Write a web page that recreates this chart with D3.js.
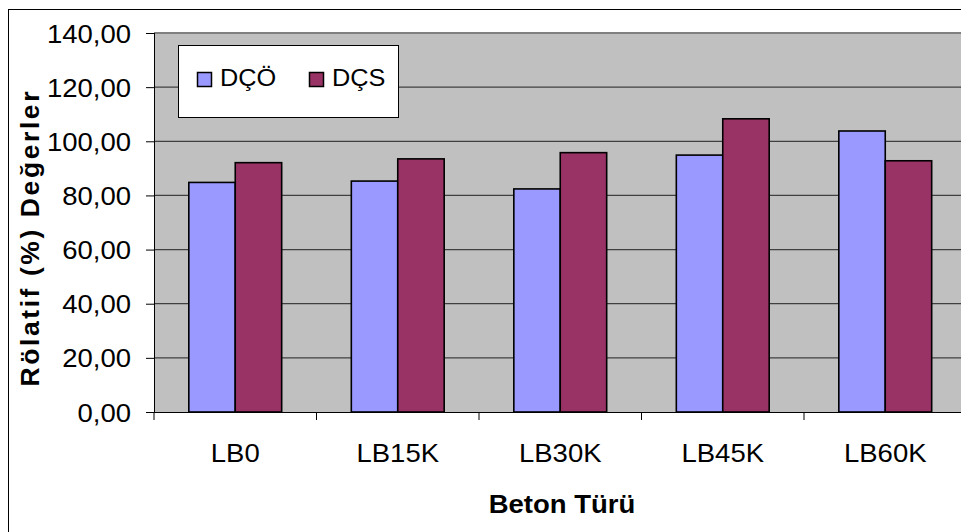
<!DOCTYPE html>
<html lang="tr">
  <head>
    <meta charset="utf-8">
    <title>Rölatif Değerler</title>
    <style>
      body{ margin:0; background:#fff; }
      text{ font-family:"Liberation Sans", Arial, sans-serif; fill:#000; }
    </style>
    <script src="https://cdn.jsdelivr.net/npm/d3@7"></script>
  </head>
  <body>
  <svg width="961" height="532"></svg>
    <script>
// data
var categories = ["LB0", "LB15K", "LB30K", "LB45K", "LB60K"];
var seriesNames = ["DÇÖ", "DÇS"];
var dcoValues = [84.8, 85.3, 82.4, 94.9, 103.8];
var dcsValues = [92.1, 93.5, 95.8, 108.3, 92.8];
var yTicks = [0, 20, 40, 60, 80, 100, 120, 140];
var colors = ["#9999FF", "#993366"];

var svg = d3.select("svg");
var plot = {left:154, right:966.5, top:33, bottom:412};
var sx = 1.1; // text in the original is a bit wide

// outer frame
svg.append("rect")
    .attr("x", 8.5).attr("y", 9.5)
    .attr("width", 1000).attr("height", 600)
    .attr("fill", "#fff").attr("stroke", "#000").attr("stroke-width", 1);

var xScale = d3.scaleBand().domain(categories).range([plot.left, plot.right]);
var step = xScale.bandwidth();
var barW = step / 3.5;
var x1 = d3.scaleBand().domain(seriesNames).range([barW * 0.75, step - barW * 0.75]);
var yScale = d3.scaleLinear().domain([0, 140]).range([plot.bottom, plot.top]);

// plot background
svg.append("rect")
    .attr("x", plot.left).attr("y", plot.top)
    .attr("width", plot.right - plot.left).attr("height", plot.bottom - plot.top)
    .attr("fill", "#C0C0C0");
svg.append("line")
    .attr("x1", plot.left).attr("x2", plot.right)
    .attr("y1", plot.top).attr("y2", plot.top)
    .attr("stroke", "#808080").attr("stroke-width", 2);

// gridlines
svg.append("g").selectAll("line")
    .data(yTicks.filter(function(d){ return d > 0 && d < 140; }))
    .enter().append("line")
    .attr("x1", plot.left).attr("x2", plot.right)
    .attr("y1", function(d){ return yScale(d); })
    .attr("y2", function(d){ return yScale(d); })
    .attr("stroke", "#404040").attr("stroke-width", 1.2);

// bars
var rows = categories.map(function(c, i){
  return {cat:c, vals:[dcoValues[i], dcsValues[i]]};
});
var groups = svg.append("g").selectAll("g")
    .data(rows).enter().append("g")
    .attr("transform", function(d){ return "translate(" + xScale(d.cat) + ",0)"; });
groups.selectAll("rect")
    .data(function(d){ return d.vals.map(function(v, j){ return {name:seriesNames[j], v:v, j:j}; }); })
    .enter().append("rect")
    .attr("x", function(d){ return x1(d.name); })
    .attr("width", x1.bandwidth())
    .attr("y", function(d){ return yScale(d.v); })
    .attr("height", function(d){ return yScale(0) - yScale(d.v); })
    .attr("fill", function(d){ return colors[d.j]; })
    .attr("stroke", "#000").attr("stroke-width", 1.6);

// y axis
var yAxis = svg.append("g")
    .attr("transform", "translate(" + plot.left + ",0)")
    .call(d3.axisLeft(yScale).tickValues(yTicks).tickSize(8).tickPadding(14)
      .tickFormat(function(d){ return d3.format(".2f")(d).replace(".", ","); }));
yAxis.select(".domain").attr("stroke", "#000").attr("stroke-width", 1).attr("d", "M0.5," + plot.top + "V" + plot.bottom);
yAxis.selectAll(".tick line").attr("stroke", "#000");
yAxis.selectAll("text")
    .attr("font-size", 25).attr("dy", "0.36em")
    .attr("x", -23 / sx)
    .attr("transform", "scale(" + sx + ",1)")
    .attr("font-family", "Liberation Sans, Arial, sans-serif");

// x axis
var xAxis = svg.append("g")
    .attr("transform", "translate(0," + plot.bottom + ")")
    .call(d3.axisBottom(xScale).tickSize(0).tickPadding(32));
xAxis.select(".domain").attr("stroke", "#000").attr("d", "M" + plot.left + ",0.5H" + plot.right);
xAxis.selectAll("text")
    .attr("font-size", 25)
    .attr("transform", "scale(" + sx + ",1)")
    .attr("font-family", "Liberation Sans, Arial, sans-serif");
xAxis.append("g").selectAll("line")
    .data(categories.concat(["end"]))
    .enter().append("line")
    .attr("x1", function(d, i){ return plot.left + i * step; })
    .attr("x2", function(d, i){ return plot.left + i * step; })
    .attr("y1", 0).attr("y2", 8)
    .attr("stroke", "#000");

// axis titles
svg.append("text")
    .attr("transform", "translate(562,513) scale(" + sx + ",1)")
    .attr("text-anchor", "middle")
    .attr("font-size", 25).attr("font-weight", "bold")
    .text("Beton Türü");
svg.append("text")
    .attr("transform", "translate(39,239) rotate(-90)")
    .attr("text-anchor", "middle")
    .attr("font-size", 26.5).attr("font-weight", "bold")
    .attr("textLength", 295).attr("lengthAdjust", "spacing")
    .text("Rölatif (%) Değerler");

// legend
var legend = svg.append("g");
legend.append("rect")
    .attr("x", 178.5).attr("y", 45.5).attr("width", 220).attr("height", 72)
    .attr("fill", "#fff").attr("stroke", "#000").attr("stroke-width", 1);
var legendX = [197, 309];
seriesNames.forEach(function(s, i){
  legend.append("rect")
      .attr("x", legendX[i] + 0.5).attr("y", 72.5).attr("width", 14).attr("height", 14)
      .attr("fill", colors[i]).attr("stroke", "#000").attr("stroke-width", 1.5);
  legend.append("text")
      .attr("transform", "translate(" + (legendX[i] + 23) + ",86) scale(" + sx + ",1)")
      .attr("font-size", 23)
      .text(s);
});
    </script>
  </body>
</html>
